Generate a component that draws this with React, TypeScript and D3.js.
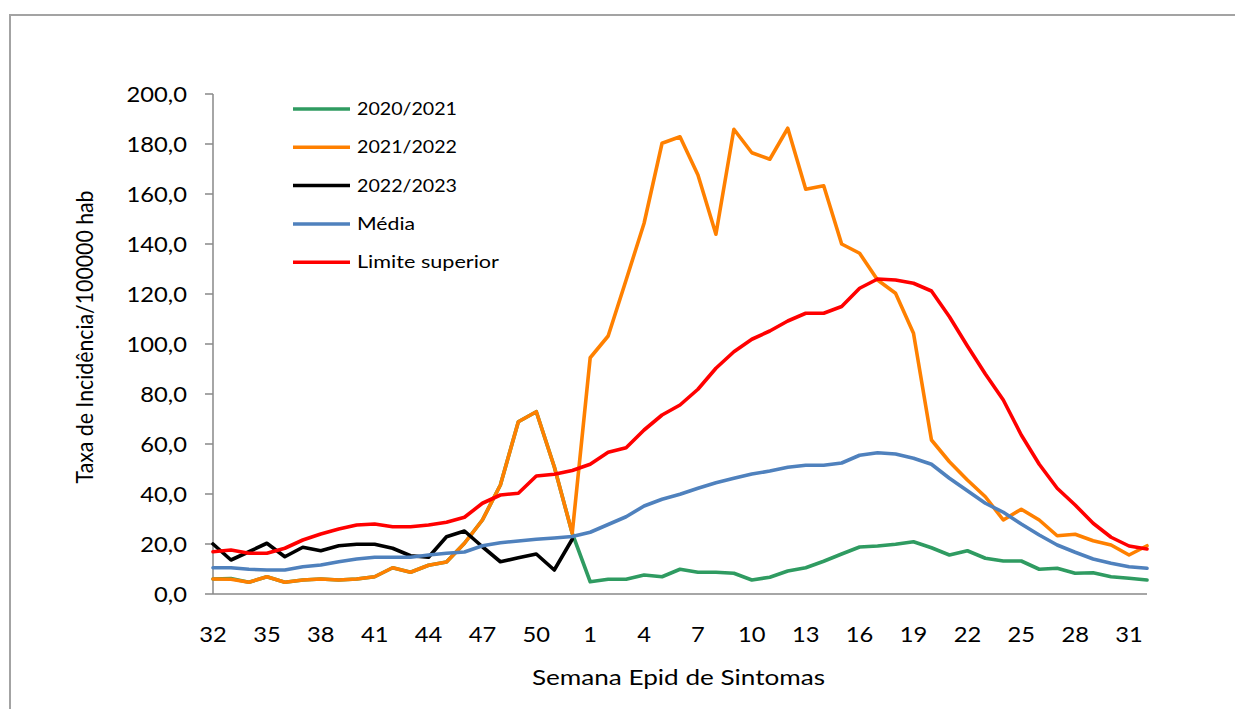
import React from "react";
import * as d3 from "d3";

const weeks: number[] = [
  32, 33, 34, 35, 36, 37, 38, 39, 40, 41, 42, 43, 44, 45, 46, 47, 48, 49, 50, 51, 52,
  1, 2, 3, 4, 5, 6, 7, 8, 9, 10, 11, 12, 13, 14, 15, 16, 17, 18, 19, 20, 21, 22, 23, 24, 25, 26, 27, 28, 29, 30, 31, 32,
];

const s2020_2021: number[] = [
  6.0, 6.2, 4.7, 6.9, 4.7, 5.6, 6.0, 5.6, 6.0, 6.9, 10.5, 8.7, 11.5, 12.8, 20.3, 29.6, 43.6, 68.9, 72.9, 50.9,
  24.3, 4.9, 5.9, 5.9, 7.6, 6.9, 9.9, 8.7, 8.7, 8.3, 5.6, 6.7, 9.2, 10.5, 13.1, 16.0, 18.8, 19.2, 19.9, 20.9,
  18.5, 15.6, 17.3, 14.3, 13.2, 13.2, 9.9, 10.3, 8.3, 8.5, 6.9, 6.3, 5.6,
];

const s2021_2022: number[] = [
  6.0, 5.9, 4.7, 6.9, 4.7, 5.6, 6.0, 5.6, 6.0, 6.9, 10.5, 8.7, 11.5, 12.8, 20.3, 29.6, 43.6, 68.9, 72.9, 50.9,
  24.3, 94.5, 103.2, 125.6, 148.3, 180.3, 182.9, 167.6, 143.9, 185.9, 176.5, 173.9, 186.3, 161.9, 163.3, 140.0,
  136.3, 125.6, 120.3, 104.3, 61.6, 52.9, 45.6, 38.9, 29.6, 33.9, 29.6, 23.3, 23.9, 21.3, 19.6, 15.6, 19.3,
];

const s2022_2023: number[] = [
  20.0, 13.6, 16.9, 20.3, 14.9, 18.7, 17.3, 19.3, 19.9, 19.9, 18.3, 15.3, 14.7, 22.9, 25.2, 18.9, 12.9, 14.5,
  16.0, 9.6, 21.9,
];

const media: number[] = [
  10.5, 10.5, 9.9, 9.6, 9.6, 10.9, 11.6, 12.9, 14.0, 14.7, 14.7, 14.7, 15.6, 16.3, 16.8, 19.3, 20.5, 21.2, 21.9, 22.4,
  23.0, 24.7, 27.8, 30.9, 35.2, 37.9, 39.9, 42.3, 44.5, 46.3, 48.0, 49.2, 50.7, 51.5, 51.5, 52.4, 55.5, 56.5, 56.0,
  54.3, 51.9, 46.3, 41.3, 36.3, 32.7, 28.0, 23.6, 19.6, 16.7, 14.0, 12.3, 10.9, 10.3,
];

const limiteSuperior: number[] = [
  16.9, 17.6, 16.3, 16.3, 18.3, 21.6, 24.0, 26.0, 27.6, 28.0, 26.9, 26.9, 27.6, 28.7, 30.7, 36.3, 39.6, 40.3, 47.2, 47.9,
  49.4, 51.9, 56.7, 58.5, 65.6, 71.6, 75.6, 81.9, 90.3, 96.9, 101.9, 105.2, 109.2, 112.3, 112.3, 115.0, 122.3, 126.0,
  125.6, 124.3, 121.2, 110.9, 99.2, 88.0, 77.6, 63.6, 51.9, 42.3, 35.6, 28.3, 22.7, 19.2, 18.0,
];

const seriesNames: string[] = ["2020/2021", "2021/2022", "2022/2023", "Média", "Limite superior"];
const seriesColors: string[] = ["#2f9b61", "#ff8000", "#000000", "#4f81bd", "#ff0000"];
const seriesValues: number[][] = [s2020_2021, s2021_2022, s2022_2023, media, limiteSuperior];
const legendWidths: number[] = [100, 100, 100, 58, 142];

const yTicks: number[] = [0, 20, 40, 60, 80, 100, 120, 140, 160, 180, 200];
const xTickEvery = 3;

const FONT = "Lato, 'Open Sans', sans-serif";
const locale = d3.formatLocale({ decimal: ",", thousands: ".", grouping: [3], currency: ["", ""] });
const fmt = locale.format(".1f");

export default function App() {
  const W = 1235;
  const H = 709;
  const left = 213;
  const right = 1147;
  const top = 94;
  const bottom = 594;

  const x = d3.scaleLinear().domain([0, weeks.length - 1]).range([left, right]);
  const y = d3.scaleLinear().domain([0, 200]).range([bottom, top]);
  const line = d3
    .line<number>()
    .x((_, i) => x(i))
    .y((d) => y(d));

  const sx = 1.13;
  const xTickIdx = weeks.map((_, i) => i).filter((i) => i % xTickEvery === 0 && i < weeks.length - 1);

  const legendY0 = 109;
  const legendStep = 38.3;

  return (
    <svg
      width={W}
      height={H}
      style={{ position: "absolute", left: 0, top: 0, background: "#fff" }}
      fontFamily={FONT}
    >
      <rect x={0} y={0} width={W} height={H} fill="#fff" />
      {/* chart border */}
      <path d={`M10,${H} L10,15 L${W},15`} fill="none" stroke="#a3a3a3" strokeWidth={2} />

      {/* axes */}
      <line x1={left} x2={left} y1={top} y2={bottom} stroke="#888" strokeWidth={1.5} />
      <line x1={left} x2={right} y1={bottom} y2={bottom} stroke="#888" strokeWidth={1.5} />
      {yTicks.map((t) => (
        <g key={t}>
          <line x1={left - 8} x2={left} y1={y(t)} y2={y(t)} stroke="#888" strokeWidth={1.5} />
          <text
            transform={`translate(187,${y(t) + 7.5}) scale(${sx},1)`}
            textAnchor="end"
            fontSize={21}
            fill="#000"
          >
            {fmt(t)}
          </text>
        </g>
      ))}
      {xTickIdx.map((i) => (
        <text
          key={i}
          transform={`translate(${x(i)},${642}) scale(${sx},1)`}
          textAnchor="middle"
          fontSize={21}
          fill="#000"
        >
          {weeks[i]}
        </text>
      ))}

      {/* axis titles */}
      <text
        x={678.5}
        y={685}
        textAnchor="middle"
        fontSize={21}
        textLength={293}
        lengthAdjust="spacingAndGlyphs"
        fill="#000"
      >
        Semana Epid de Sintomas
      </text>
      <text
        transform={`translate(93,337) rotate(-90)`}
        textAnchor="middle"
        fontSize={24}
        textLength={293}
        lengthAdjust="spacingAndGlyphs"
        fill="#000"
      >
        Taxa de Incidência/100000 hab
      </text>

      {/* series */}
      {seriesValues.map((vals, k) => (
        <path
          key={seriesNames[k]}
          d={line(vals) || ""}
          fill="none"
          stroke={seriesColors[k]}
          strokeWidth={3.6}
          strokeLinejoin="round"
          strokeLinecap="round"
        />
      ))}

      {/* legend */}
      {seriesNames.map((name, k) => {
        const ly = legendY0 + k * legendStep;
        return (
          <g key={name}>
            <line x1={293} x2={350} y1={ly} y2={ly} stroke={seriesColors[k]} strokeWidth={3.5} />
            <text
              x={357}
              y={ly + 6}
              fontSize={17}
              textLength={legendWidths[k]}
              lengthAdjust="spacingAndGlyphs"
              fill="#000"
            >
              {name}
            </text>
          </g>
        );
      })}
    </svg>
  );
}
